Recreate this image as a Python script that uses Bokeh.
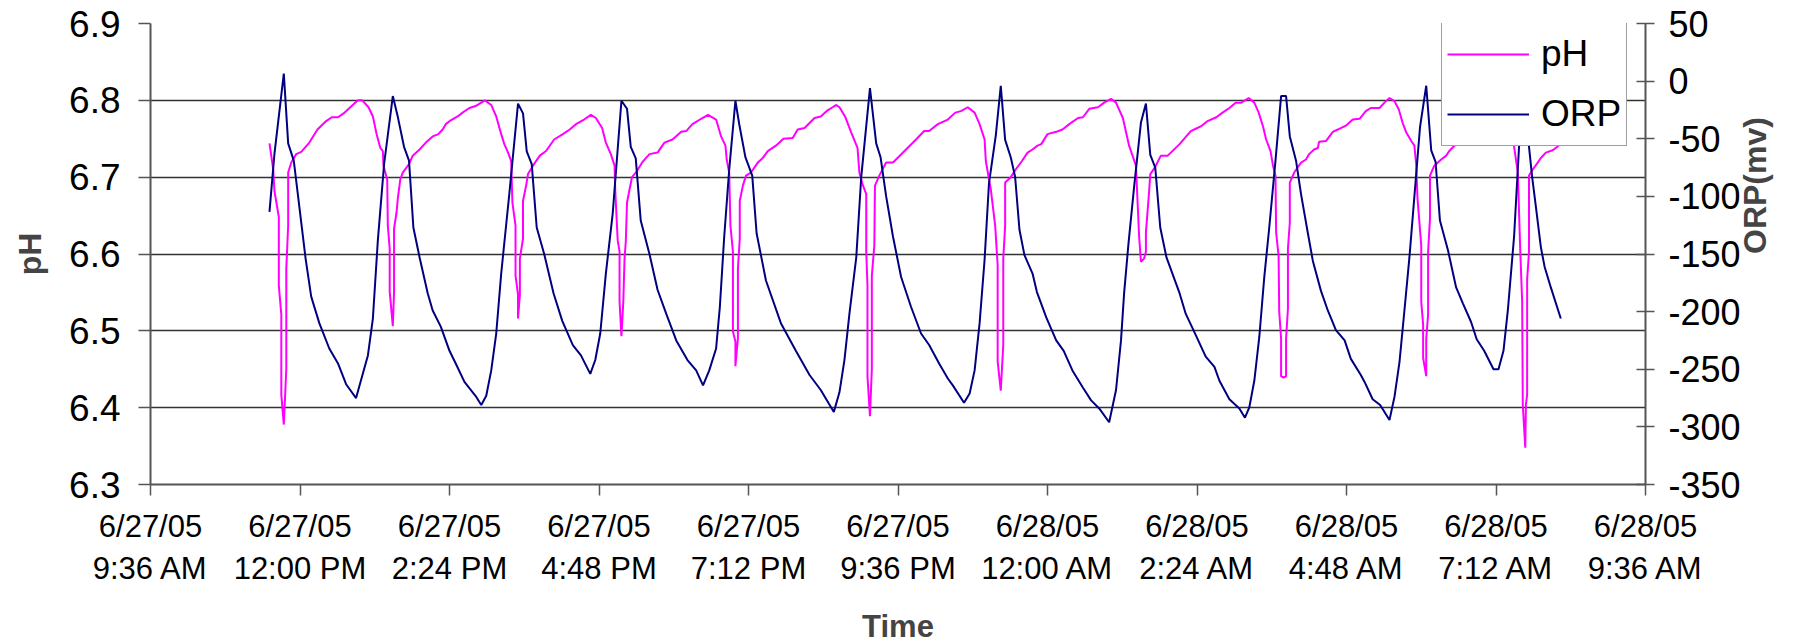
import math
from bokeh.plotting import figure
from bokeh.models import (Range1d, LinearAxis, FixedTicker, Legend, LegendItem,
                          PrintfTickFormatter)
from bokeh.embed import file_html
from bokeh.resources import INLINE

# Time is in hours since 6/27/05 00:00 (values above 24 are on 6/28/05)
ph_points = [
    (11.51, 6.744), (11.57, 6.710), (11.59, 6.682), (11.66, 6.648), (11.66, 6.559),
    (11.70, 6.521), (11.70, 6.417), (11.74, 6.378), (11.78, 6.450), (11.78, 6.581),
    (11.81, 6.637), (11.81, 6.706), (11.86, 6.719), (11.94, 6.730), (12.02, 6.733),
    (12.15, 6.745), (12.28, 6.762), (12.42, 6.773), (12.51, 6.778), (12.61, 6.778),
    (12.70, 6.783), (12.82, 6.792), (12.93, 6.800), (13.00, 6.800), (13.10, 6.791),
    (13.17, 6.779), (13.23, 6.756), (13.29, 6.738), (13.33, 6.734), (13.34, 6.715),
    (13.40, 6.697), (13.41, 6.637), (13.44, 6.607), (13.44, 6.551), (13.49, 6.506),
    (13.51, 6.551), (13.51, 6.633), (13.55, 6.654), (13.57, 6.672), (13.61, 6.697),
    (13.65, 6.706), (13.75, 6.717), (13.81, 6.728), (13.92, 6.736), (14.02, 6.745),
    (14.13, 6.753), (14.22, 6.756), (14.29, 6.762), (14.34, 6.769), (14.42, 6.774),
    (14.53, 6.779), (14.61, 6.784), (14.72, 6.790), (14.83, 6.793), (14.91, 6.797),
    (14.97, 6.800), (15.07, 6.794), (15.15, 6.779), (15.23, 6.756), (15.28, 6.743),
    (15.34, 6.732), (15.39, 6.721), (15.41, 6.667), (15.46, 6.637), (15.46, 6.572),
    (15.50, 6.547), (15.50, 6.516), (15.53, 6.547), (15.53, 6.594), (15.58, 6.620),
    (15.58, 6.669), (15.63, 6.689), (15.66, 6.704), (15.74, 6.715), (15.85, 6.728),
    (15.95, 6.734), (16.08, 6.749), (16.22, 6.756), (16.33, 6.762), (16.43, 6.769),
    (16.56, 6.775), (16.67, 6.781), (16.75, 6.777), (16.85, 6.764), (16.91, 6.745),
    (16.99, 6.730), (17.05, 6.715), (17.06, 6.684), (17.10, 6.618), (17.13, 6.603),
    (17.13, 6.538), (17.16, 6.493), (17.19, 6.538), (17.21, 6.594), (17.23, 6.616),
    (17.25, 6.667), (17.29, 6.684), (17.33, 6.700), (17.41, 6.708), (17.50, 6.720),
    (17.61, 6.730), (17.74, 6.732), (17.85, 6.745), (17.98, 6.749), (18.12, 6.759),
    (18.20, 6.760), (18.30, 6.769), (18.44, 6.776), (18.55, 6.781), (18.68, 6.775),
    (18.76, 6.753), (18.83, 6.741), (18.85, 6.723), (18.89, 6.706), (18.91, 6.637),
    (18.95, 6.603), (18.95, 6.499), (18.99, 6.486), (18.99, 6.454), (19.03, 6.490),
    (19.03, 6.581), (19.06, 6.620), (19.06, 6.669), (19.11, 6.689), (19.16, 6.702),
    (19.24, 6.706), (19.35, 6.719), (19.43, 6.725), (19.51, 6.734), (19.64, 6.741),
    (19.76, 6.750), (19.91, 6.751), (19.99, 6.762), (20.10, 6.764), (20.26, 6.777),
    (20.36, 6.779), (20.47, 6.787), (20.55, 6.791), (20.61, 6.794), (20.66, 6.791),
    (20.75, 6.779), (20.85, 6.758), (20.95, 6.738), (20.98, 6.706), (21.03, 6.691),
    (21.09, 6.678), (21.09, 6.603), (21.11, 6.559), (21.11, 6.441), (21.15, 6.389),
    (21.18, 6.450), (21.18, 6.572), (21.22, 6.611), (21.23, 6.689), (21.30, 6.702),
    (21.41, 6.719), (21.52, 6.719), (21.89, 6.749), (22.02, 6.760), (22.10, 6.760),
    (22.24, 6.769), (22.40, 6.775), (22.52, 6.784), (22.61, 6.786), (22.72, 6.791),
    (22.83, 6.784), (22.91, 6.769), (22.99, 6.749), (23.01, 6.721), (23.09, 6.684),
    (23.16, 6.637), (23.20, 6.585), (23.20, 6.460), (23.25, 6.422), (23.29, 6.482),
    (23.29, 6.594), (23.32, 6.637), (23.32, 6.693), (23.41, 6.700), (23.49, 6.710),
    (23.59, 6.721), (23.68, 6.732), (23.76, 6.736), (23.84, 6.741), (23.90, 6.743),
    (24.00, 6.756), (24.14, 6.759), (24.24, 6.762), (24.35, 6.769), (24.49, 6.777),
    (24.57, 6.778), (24.67, 6.789), (24.81, 6.791), (24.91, 6.797), (25.02, 6.802),
    (25.10, 6.797), (25.21, 6.777), (25.31, 6.741), (25.42, 6.715), (25.47, 6.624),
    (25.50, 6.590), (25.55, 6.594), (25.58, 6.603), (25.58, 6.628), (25.63, 6.680),
    (25.65, 6.704), (25.72, 6.712), (25.82, 6.728), (25.93, 6.728), (26.12, 6.743),
    (26.30, 6.760), (26.38, 6.763), (26.46, 6.766), (26.57, 6.773), (26.71, 6.778),
    (26.81, 6.784), (26.92, 6.790), (27.02, 6.797), (27.11, 6.797), (27.23, 6.803),
    (27.32, 6.797), (27.39, 6.784), (27.46, 6.766), (27.51, 6.749), (27.58, 6.734),
    (27.62, 6.715), (27.66, 6.702), (27.67, 6.628), (27.71, 6.598), (27.72, 6.525),
    (27.75, 6.490), (27.75, 6.441), (27.79, 6.439), (27.83, 6.441), (27.83, 6.490),
    (27.86, 6.529), (27.86, 6.607), (27.89, 6.641), (27.89, 6.693), (27.96, 6.706),
    (28.07, 6.719), (28.15, 6.723), (28.20, 6.730), (28.28, 6.736), (28.34, 6.738),
    (28.36, 6.746), (28.47, 6.747), (28.58, 6.759), (28.66, 6.762), (28.79, 6.767),
    (28.90, 6.775), (29.01, 6.776), (29.11, 6.786), (29.19, 6.790), (29.33, 6.790),
    (29.41, 6.797), (29.49, 6.803), (29.57, 6.799), (29.64, 6.788), (29.70, 6.771),
    (29.76, 6.758), (29.84, 6.747), (29.89, 6.741), (29.92, 6.715), (29.94, 6.672),
    (30.00, 6.611), (30.00, 6.538), (30.03, 6.508), (30.03, 6.465), (30.08, 6.441),
    (30.08, 6.490), (30.11, 6.521), (30.11, 6.603), (30.14, 6.646), (30.14, 6.702),
    (30.21, 6.715), (30.32, 6.723), (30.40, 6.728), (30.45, 6.734), (30.64, 6.750),
    (30.88, 6.768), (31.12, 6.788), (31.28, 6.800), (31.38, 6.790), (31.46, 6.760),
    (31.49, 6.740), (31.55, 6.706), (31.59, 6.603), (31.62, 6.538), (31.63, 6.404),
    (31.67, 6.348), (31.68, 6.404), (31.70, 6.417), (31.70, 6.567), (31.73, 6.603),
    (31.73, 6.702), (31.79, 6.710), (31.87, 6.719), (31.92, 6.725), (32.00, 6.732),
    (32.11, 6.735), (32.19, 6.740), (32.24, 6.745),
]

orp_points = [
    (11.51, -113.5), (11.59, -63), (11.74, 6.6), (11.81, -54), (11.90, -69),
    (12.09, -154), (12.18, -187), (12.31, -210), (12.47, -232), (12.61, -245),
    (12.74, -263), (12.90, -275), (13.09, -238), (13.17, -206), (13.25, -138),
    (13.35, -72), (13.49, -13), (13.57, -31), (13.67, -57), (13.75, -69),
    (13.82, -127), (13.92, -153), (14.05, -184), (14.13, -199), (14.26, -213),
    (14.40, -234), (14.50, -245), (14.64, -261), (14.83, -274), (14.91, -281),
    (14.99, -273), (15.07, -251), (15.15, -219), (15.23, -167), (15.36, -98),
    (15.50, -19.5), (15.58, -28), (15.64, -61), (15.72, -72), (15.80, -127),
    (15.92, -150), (16.07, -184), (16.21, -208), (16.38, -229), (16.51, -238),
    (16.66, -254), (16.74, -242), (16.82, -219), (16.91, -167), (17.02, -115),
    (17.16, -17), (17.25, -24), (17.31, -57), (17.39, -67), (17.47, -121),
    (17.61, -150), (17.74, -181), (17.88, -202), (18.04, -225), (18.22, -242),
    (18.36, -251), (18.47, -264), (18.57, -251), (18.68, -232), (18.74, -196),
    (18.81, -135), (18.89, -77), (18.99, -17), (19.05, -37), (19.15, -66),
    (19.26, -82), (19.33, -132), (19.48, -173), (19.72, -210), (19.96, -234),
    (20.18, -255), (20.36, -268), (20.57, -287), (20.66, -270), (20.74, -242),
    (20.82, -202), (20.93, -153), (21.01, -83), (21.15, -6), (21.25, -54),
    (21.32, -66), (21.41, -100), (21.52, -135), (21.65, -170), (21.81, -196),
    (21.97, -219), (22.10, -229), (22.26, -245), (22.40, -258), (22.48, -264),
    (22.66, -279), (22.75, -271), (22.83, -251), (22.91, -210), (22.99, -155),
    (23.06, -89), (23.17, -47), (23.25, -4), (23.32, -51), (23.41, -66),
    (23.48, -83), (23.55, -129), (23.63, -151), (23.76, -167), (23.83, -183),
    (23.98, -205), (24.14, -225), (24.26, -234), (24.40, -251), (24.57, -266),
    (24.70, -277), (24.83, -284), (24.99, -296), (25.10, -268), (25.18, -225),
    (25.23, -184), (25.30, -141), (25.39, -92), (25.50, -36), (25.58, -19.5),
    (25.65, -64), (25.73, -75), (25.81, -127), (25.91, -153), (26.12, -184),
    (26.22, -202), (26.36, -218), (26.54, -239), (26.68, -248), (26.76, -260),
    (26.92, -276), (27.08, -284), (27.17, -292), (27.24, -283), (27.32, -260),
    (27.40, -222), (27.48, -170), (27.56, -127), (27.66, -69), (27.75, -13),
    (27.83, -13), (27.89, -48), (27.99, -69), (28.07, -98), (28.18, -132),
    (28.26, -156), (28.39, -182), (28.50, -199), (28.63, -216), (28.77, -225),
    (28.87, -241), (29.03, -255), (29.09, -261), (29.22, -276), (29.34, -281),
    (29.49, -294), (29.57, -274), (29.65, -244), (29.73, -199), (29.81, -153),
    (29.89, -100), (29.98, -40), (30.08, -4), (30.16, -60), (30.23, -70),
    (30.30, -121), (30.43, -147), (30.56, -179), (30.67, -193), (30.80, -209),
    (30.89, -224), (31.01, -234), (31.16, -250), (31.24, -250), (31.32, -234),
    (31.39, -199), (31.49, -135), (31.57, -57), (31.65, -10), (31.73, -57),
    (31.78, -83), (31.84, -109), (31.92, -144), (31.98, -161), (32.08, -179),
    (32.24, -206),
]

# axis ticks (x in minutes since 6/27/05 00:00)
x_ticks = list(range(576, 2017, 144))
x_tick_labels = [
    "6/27/05\n9:36 AM", "6/27/05\n12:00 PM", "6/27/05\n2:24 PM", "6/27/05\n4:48 PM",
    "6/27/05\n7:12 PM", "6/27/05\n9:36 PM", "6/28/05\n12:00 AM", "6/28/05\n2:24 AM",
    "6/28/05\n4:48 AM", "6/28/05\n7:12 AM", "6/28/05\n9:36 AM",
]
ph_ticks = [6.3, 6.4, 6.5, 6.6, 6.7, 6.8, 6.9]
orp_ticks = [-350, -300, -250, -200, -150, -100, -50, 0, 50]
orp_tick_labels = ["-350", "-300", "-250", "-200", "-150", "-100", "-50", "0", "50"]

FONT = "Liberation Sans"

ph_x = [t * 60 for t, _ in ph_points]
ph_y = [v for _, v in ph_points]
orp_x = [t * 60 for t, _ in orp_points]
orp_y = [v for _, v in orp_points]

p = figure(frame_width=1495, frame_height=461,
           x_range=Range1d(576, 2016), y_range=Range1d(6.3, 6.9),
           output_backend="svg", toolbar_location=None,
           min_border_left=150, min_border_right=147,
           min_border_top=23, min_border_bottom=157)
p.extra_y_ranges = {"orp": Range1d(-350, 50)}
p.outline_line_color = None
p.background_fill_color = "white"
p.border_fill_color = "white"

# grid
p.xgrid.grid_line_color = None
p.ygrid.grid_line_color = "#333333"
p.ygrid.grid_line_width = 1.3

AX_COLOR = "#555555"

# bottom axis
xa = p.xaxis[0]
xa.ticker = FixedTicker(ticks=x_ticks)
xa.major_label_overrides = {t: l for t, l in zip(x_ticks, x_tick_labels)}
xa.axis_label = "Time"
xa.axis_label_text_font = FONT
xa.axis_label_text_font_style = "bold"
xa.axis_label_text_font_size = "31px"
xa.axis_label_standoff = 20
xa.major_label_text_font = FONT
xa.major_label_text_font_size = "31px"
xa.major_label_text_color = "black"
xa.major_label_standoff = 13
xa.axis_line_color = AX_COLOR
xa.axis_line_width = 2
xa.major_tick_line_color = AX_COLOR
xa.major_tick_line_width = 1.5
xa.major_tick_out = 11
xa.major_tick_in = 0
xa.minor_tick_line_color = None

# left axis
ya = p.yaxis[0]
ya.ticker = FixedTicker(ticks=ph_ticks)
ya.formatter = PrintfTickFormatter(format="%.1f")
ya.axis_label = "pH"
ya.axis_label_text_font = FONT
ya.axis_label_text_font_style = "bold"
ya.axis_label_text_font_size = "32px"
ya.axis_label_standoff = 18
ya.major_label_text_font = FONT
ya.major_label_text_font_size = "37px"
ya.major_label_text_color = "black"
ya.major_label_standoff = 18
ya.axis_line_color = AX_COLOR
ya.axis_line_width = 2
ya.major_tick_line_color = AX_COLOR
ya.major_tick_line_width = 1.5
ya.major_tick_out = 12
ya.major_tick_in = 0
ya.minor_tick_line_color = None

# right axis
ra = LinearAxis(y_range_name="orp", ticker=FixedTicker(ticks=orp_ticks))
ra.major_label_overrides = {t: l for t, l in zip(orp_ticks, orp_tick_labels)}
ra.axis_label = "ORP(mv)"
ra.axis_label_text_font = FONT
ra.axis_label_text_font_style = "bold"
ra.axis_label_text_font_size = "32px"
ra.axis_label_standoff = 11
ra.major_label_text_font = FONT
ra.major_label_text_font_size = "36px"
ra.major_label_text_color = "black"
ra.major_label_standoff = 14
ra.axis_line_color = AX_COLOR
ra.axis_line_width = 2
ra.major_tick_line_color = AX_COLOR
ra.major_tick_line_width = 1.5
ra.major_tick_out = 9
ra.major_tick_in = 9
ra.minor_tick_line_color = None
try:
    ra.axis_label_orientation = math.pi / 2
except Exception:
    pass
p.add_layout(ra, "right")

r_ph = p.line(ph_x, ph_y, line_color="#FF00FF", line_width=2)
r_orp = p.line(orp_x, orp_y, line_color="#000080", line_width=2, y_range_name="orp")

legend = Legend(items=[LegendItem(label="pH", renderers=[r_ph]),
                       LegendItem(label="ORP", renderers=[r_orp])],
                location=(1291, 338))
legend.padding = 5
legend.spacing = 8
legend.label_height = 52
legend.glyph_height = 52
legend.glyph_width = 82
legend.label_standoff = 12
legend.label_text_font = FONT
legend.label_text_font_size = "37px"
legend.label_text_color = "black"
legend.border_line_color = "#404040"
legend.border_line_width = 1.5
legend.background_fill_color = "white"
legend.background_fill_alpha = 1.0
legend.margin = 0
p.add_layout(legend)

open("out.html", "w").write(file_html(p, INLINE))
